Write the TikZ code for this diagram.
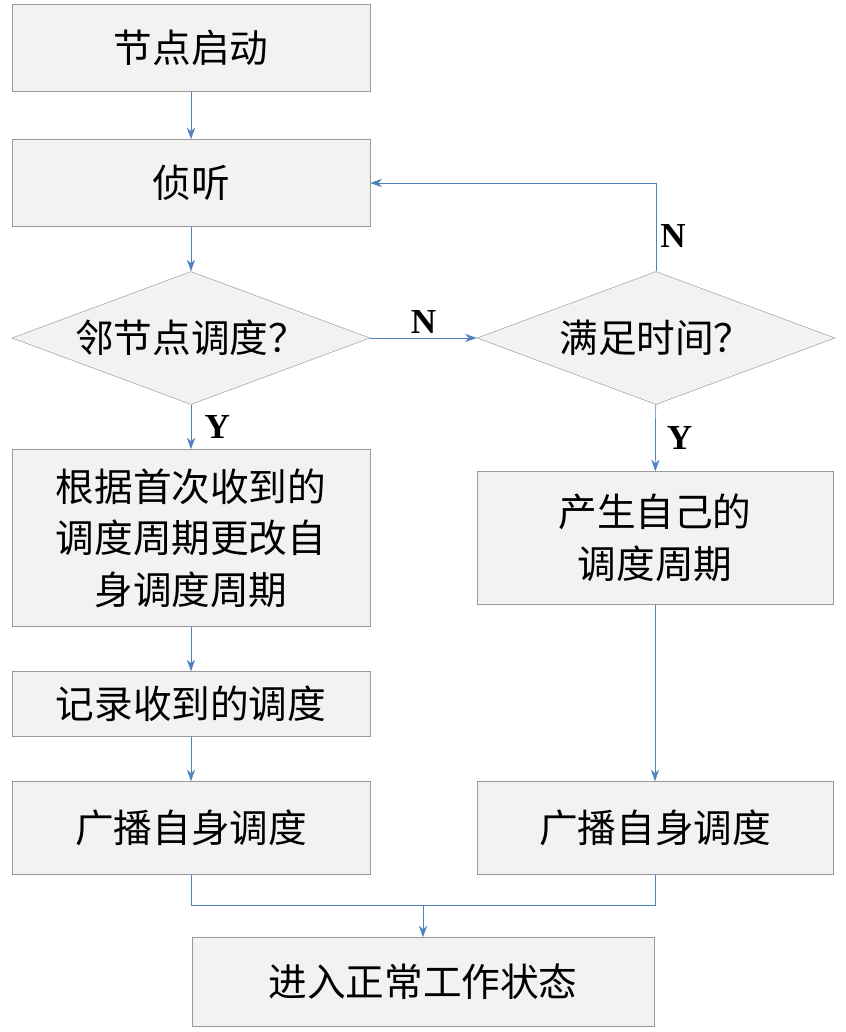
\documentclass[tikz,border=0pt]{standalone}
\usepackage{fontspec}
\setmainfont{Liberation Serif}
\newfontfamily\cjk{Noto Sans CJK SC}
\usetikzlibrary{shapes.geometric,arrows.meta}
\definecolor{lineblue}{RGB}{79,129,189}
\definecolor{boxgray}{RGB}{242,242,242}
\begin{document}
\begin{tikzpicture}[x=0.03cm,y=-0.03cm]
    \tikzset{
      box/.style={draw=gray!80, rectangle, fill=boxgray, inner sep=0pt, font=\cjk\fontsize{33}{44}\selectfont, align=center},
      dec/.style={draw=gray!80, diamond, aspect=2.69, fill=boxgray, inner sep=0pt, minimum width=10.74cm, minimum height=3.99cm, font=\cjk\fontsize{33}{40}\selectfont},
      line/.style={draw=lineblue, line width=0.6pt, -{Stealth[length=10pt,width=7pt]}},
      yn/.style={font=\bfseries\fontsize{30}{30}\selectfont}
    }
    \useasboundingbox (0,0) rectangle (846,1032);
    \node [box, minimum width=10.74cm, minimum height=2.61cm] (start) at (191,48) {节点启动};
    \node [box, minimum width=10.74cm, minimum height=2.61cm] (listen) at (191,183) {侦听};
    \node [dec] (nbr) at (191,338) {邻节点调度？};
    \node [dec] (time) at (656,338) {满足时间？};
    \node [box, minimum width=10.74cm, minimum height=5.31cm] (adopt) at (191,538) {根据首次收到的\\调度周期更改自\\身调度周期};
    \node [box, minimum width=10.68cm, minimum height=3.99cm] (own) at (655,538) {产生自己的\\调度周期};
    \node [box, minimum width=10.74cm, minimum height=1.95cm] (record) at (191,704) {记录收到的调度};
    \node [box, minimum width=10.74cm, minimum height=2.79cm] (bcl) at (191,828) {广播自身调度};
    \node [box, minimum width=10.68cm, minimum height=2.79cm] (bcr) at (655,828) {广播自身调度};
    \node [box, minimum width=13.86cm, minimum height=2.67cm] (work) at (423,982) {进入正常工作状态};
    \coordinate (merge) at (423,905);

    \path [line] (start)--(listen);
    \path [line] (listen)--(nbr);
    \path [line] (nbr)--(adopt) node [yn, pos=0.5, right=8pt] {Y};
    \path [line] (nbr)--(time) node [yn, midway, above] {N};
    \path [line] (time.north) |- (listen) node [yn, pos=0.2, right] {N};
    \path [line] (time)--(own) node [yn, pos=0.5, right=6pt] {Y};
    \path [line] (adopt)--(record);
    \path [line] (record)--(bcl);
    \path [line] (own)--(bcr);
    \draw [lineblue, line width=0.6pt] (bcl.south) |- (merge) -| (bcr.south);
    \path [line] (merge)--(work);
\end{tikzpicture}
\end{document}
